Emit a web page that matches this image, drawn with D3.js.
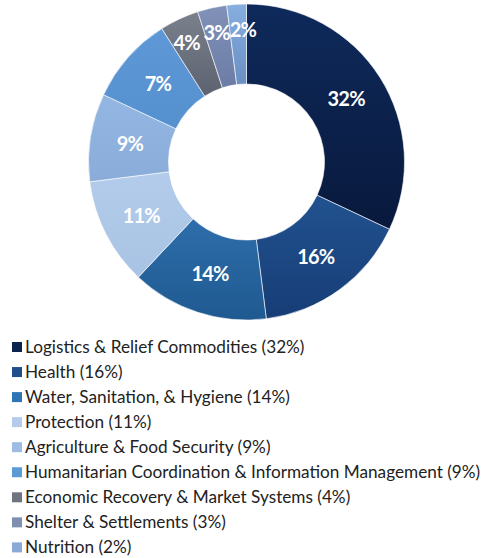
<!DOCTYPE html>
<html>
<head>
<meta charset="utf-8">
<script src="https://cdn.jsdelivr.net/npm/d3@7"></script>
<style>
  body { margin: 0; background: #fff; }
  svg { display: block; }
</style>
</head>
<body>
<div id="chart"></div>
<script>
// Sector names, percentages and colours
var sectors = ["Logistics & Relief Commodities", "Health", "Water, Sanitation, & Hygiene", "Protection",
  "Agriculture & Food Security", "Humanitarian Coordination & Information Management",
  "Economic Recovery & Market Systems", "Shelter & Settlements", "Nutrition"];
var shares = [32, 16, 14, 11, 9, 9, 4, 3, 2];
// the label on the chart says 7% for the coordination slice, the legend says 9%
var sliceLabels = ["32%", "16%", "14%", "11%", "9%", "7%", "4%", "3%", "2%"];
var topColors = ["#0e2a5b", "#21528f", "#2e6eab", "#b3cceb", "#94b6e2", "#5e98d6", "#7b808d", "#8191b8", "#86afe0"];
var bottomColors = ["#09193d", "#173d76", "#1f5990", "#a9c3e4", "#8aacd9", "#5590cf", "#5d6270", "#6b7da6", "#6a8fc3"];
var legendColors = ["#0c2350", "#1f4e8a", "#2e75b6", "#b4cce9", "#9dbbe3", "#5b9bd5", "#70747f", "#7f8fb0", "#8aa9d6"];

var width = 483, height = 558;
var cx = 246.5, cy = 162, outerR = 158, innerR = 78;

var svg = d3.select("#chart").append("svg")
  .attr("width", width)
  .attr("height", height);

// gradients, one per slice
var defs = svg.append("defs");
sectors.forEach(function(s, i) {
  var g = defs.append("linearGradient")
    .attr("id", "grad" + i)
    .attr("x1", 0).attr("y1", 0).attr("x2", 0).attr("y2", 1);
  g.append("stop").attr("offset", "0%").attr("stop-color", topColors[i]);
  g.append("stop").attr("offset", "100%").attr("stop-color", bottomColors[i]);
});

var pie = d3.pie().sort(null).value(function(d) { return d; });
var arcs = pie(shares);

var arc = d3.arc().innerRadius(innerR).outerRadius(outerR);
var labelArc = d3.arc().innerRadius(118).outerRadius(118);
var smallLabelArc = d3.arc().innerRadius(132).outerRadius(132);

var g = svg.append("g").attr("transform", "translate(" + cx + "," + cy + ")");

g.selectAll("path.slice")
  .data(arcs)
  .enter()
  .append("path")
  .attr("class", "slice")
  .attr("d", arc)
  .attr("fill", function(d, i) { return "url(#grad" + i + ")"; })
  .attr("stroke", "#fff")
  .attr("stroke-width", 0.6);

// label positions: centroid, small slices pushed out and spread apart
var pos = arcs.map(function(d) {
  return d.data < 5 ? smallLabelArc.centroid(d) : labelArc.centroid(d);
});
var minGap = 30;
for (var i = pos.length - 1; i > 0; i--) {
  if (shares[i] >= 5 || shares[i - 1] >= 5) continue;
  var a = pos[i - 1], b = pos[i];
  var dx = b[0] - a[0];
  if (dx < minGap) {
    var push = (minGap - dx) / 2;
    a[0] -= push;
    b[0] += push;
  }
}

g.selectAll("text.lbl")
  .data(arcs)
  .enter()
  .append("text")
  .attr("class", "lbl")
  .attr("transform", function(d, i) { return "translate(" + pos[i] + ")"; })
  .attr("text-anchor", "middle")
  .attr("dy", "0.35em")
  .style("font-family", "Lato, 'Open Sans', sans-serif")
  .style("font-weight", "bold")
  .style("font-size", "20px")
  .style("letter-spacing", "-0.8px")
  .style("fill", "#fff")
  .text(function(d, i) { return sliceLabels[i]; });

// legend
var legend = svg.append("g").attr("transform", "translate(12,347)");
var rowH = 25.05;

var rows = legend.selectAll("g.row")
  .data(sectors)
  .enter()
  .append("g")
  .attr("class", "row")
  .attr("transform", function(d, i) { return "translate(0," + (i * rowH) + ")"; });

rows.append("rect")
  .attr("x", 0).attr("y", -5)
  .attr("width", 10).attr("height", 10)
  .attr("fill", function(d, i) { return legendColors[i]; });

rows.append("text")
  .attr("x", 13)
  .attr("dy", "0.35em")
  .style("font-family", "Lato, 'Open Sans', sans-serif")
  .style("font-size", "17.2px")
  .style("fill", "#222")
  .text(function(d, i) { return d + " (" + shares[i] + "%)"; });
</script>
</body>
</html>
